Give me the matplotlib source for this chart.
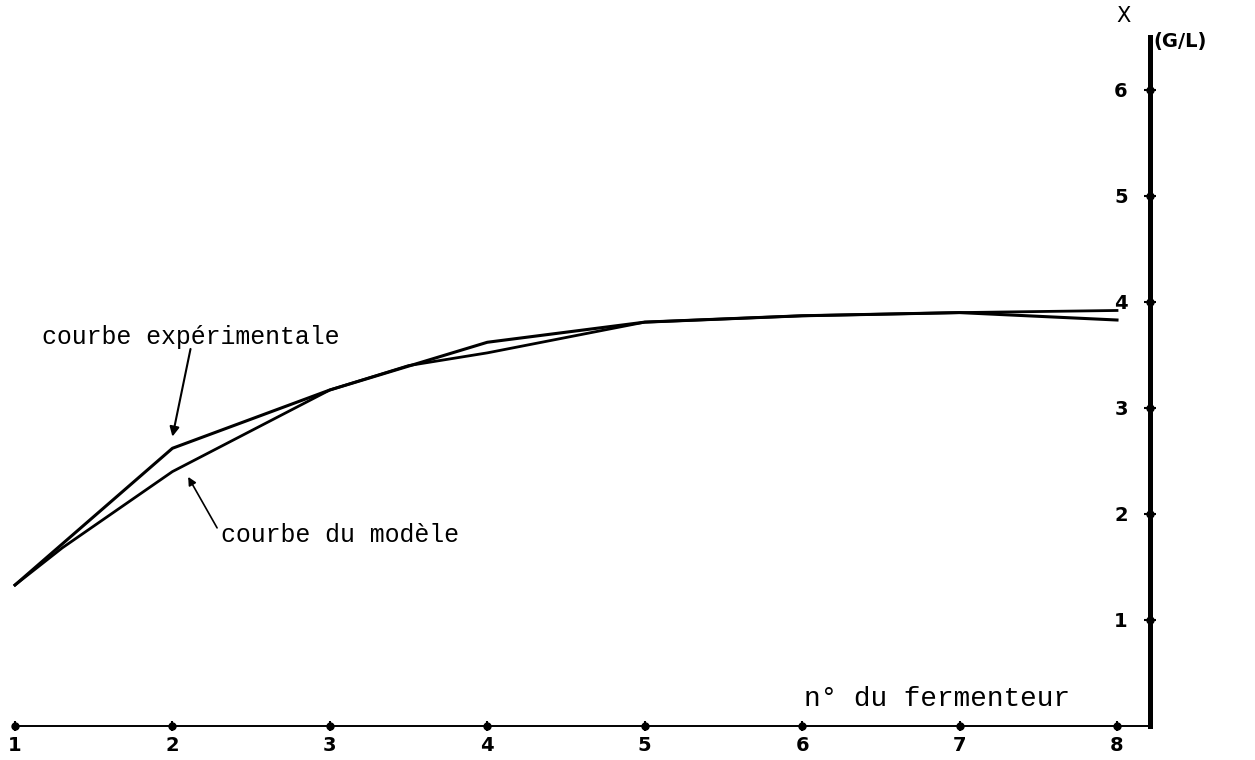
"""Courbes X (G/L) par fermenteur : experimentale vs modele."""
import matplotlib
matplotlib.use("Agg")
import matplotlib.pyplot as plt

# ----- donnees -----
fermenteurs = [1, 2, 3, 4, 5, 6, 7, 8]
x_experimental = [1.33, 2.62, 3.17, 3.62, 3.81, 3.87, 3.90, 3.83]
fermenteurs_modele = [1, 1.3, 2, 3, 3.5, 4, 5, 6, 7, 8]
x_modele = [1.33, 1.68, 2.40, 3.17, 3.40, 3.52, 3.81, 3.87, 3.90, 3.92]
yticks = [1, 2, 3, 4, 5, 6]
xtick_labels = ["1", "2", "3", "4", "5", "6", "7", "8"]

AXE_Y = 8.21     # position de l'axe vertical (en n° de fermenteur)
Y_MAX = 6.5

fig = plt.figure(figsize=(12.55, 7.6), dpi=100)
ax = fig.add_axes([0, 0, 1, 1])
ax.set_xlim(0.9047, 8.8766)
ax.set_ylim(-0.3208, 6.849)

ax.plot(fermenteurs, x_experimental, color="black", lw=2.2,
        solid_joinstyle="round", clip_on=False)
ax.plot(fermenteurs_modele, x_modele, color="black", lw=2.0,
        solid_joinstyle="round", clip_on=False)

# axes : horizontal en bas, vertical a droite
for side in ("top", "right"):
    ax.spines[side].set_visible(False)
ax.spines["bottom"].set_position(("data", 0))
ax.spines["bottom"].set_bounds(1, AXE_Y)
ax.spines["bottom"].set_linewidth(1.4)
ax.spines["left"].set_position(("data", AXE_Y))
ax.spines["left"].set_bounds(0, Y_MAX)
ax.spines["left"].set_linewidth(3.6)

ax.set_xticks(fermenteurs)
ax.set_xticklabels(xtick_labels)
ax.set_yticks(yticks)
ax.tick_params(axis="x", direction="inout", length=7, width=1.5, pad=4,
               labelsize=14)
ax.tick_params(axis="y", direction="inout", length=8, width=1.5, pad=12,
               labelsize=14)
for lab in ax.get_xticklabels() + ax.get_yticklabels():
    lab.set_fontweight("bold")

# petits points aux graduations
ax.plot(fermenteurs, [0] * len(fermenteurs), "o", color="black", ms=5,
        clip_on=False)
ax.plot([AXE_Y] * len(yticks), yticks, "o", color="black", ms=5,
        clip_on=False)

mono = "Liberation Mono"
ax.text(8.04, 6.7, "X", fontsize=15, ha="center", va="center")
ax.text(AXE_Y + 0.02, 6.46, "(G/L)", fontsize=14, fontweight="bold",
        ha="left", va="center")
ax.text(6.01, 0.25, "n° du fermenteur", family=mono, fontsize=20,
        ha="left", va="center")

ax.annotate("courbe expérimentale", xy=(2.0, 2.73), xytext=(1.17, 3.67),
            family=mono, fontsize=17.9, ha="left", va="center",
            arrowprops=dict(arrowstyle="-|>", color="black", lw=1.5,
                            mutation_scale=14, shrinkA=0, shrinkB=0,
                            patchA=None, relpos=(0.5, 0)))
ax.annotate("courbe du modèle", xy=(2.1, 2.35), xytext=(2.31, 1.80),
            family=mono, fontsize=17.9, ha="left", va="center",
            arrowprops=dict(arrowstyle="-|>", color="black", lw=1.2,
                            mutation_scale=12, shrinkA=2, shrinkB=0,
                            relpos=(0, 0.5)))

ax.patch.set_visible(False)
fig.savefig("out.png", dpi=100, facecolor="white")
